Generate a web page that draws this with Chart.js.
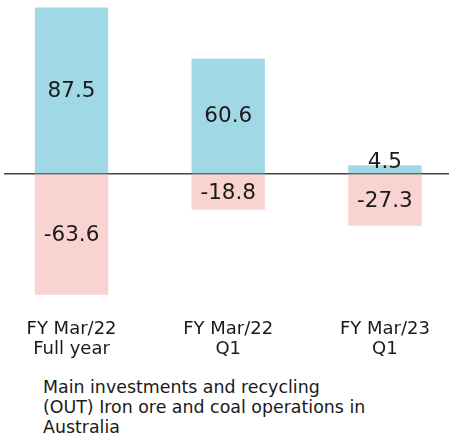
<!DOCTYPE html>
<html>
<head>
<meta charset="utf-8">
<script src="https://cdn.jsdelivr.net/npm/chart.js@4/dist/chart.umd.min.js"></script>
<style>
  html, body { margin: 0; padding: 0; background: #fff; }
  #wrap { position: relative; width: 449px; height: 444px; }
  #box { position: absolute; left: 0; top: 0; width: 449px; height: 359px; }
  #caption {
    position: absolute; left: 43px; top: 377px; width: 400px;
    font-family: "DejaVu Sans", Verdana, sans-serif; font-size: 17.4px;
    line-height: 20px; color: #1a1a1a;
  }
</style>
</head>
<body>
<div id="wrap">
  <div id="box"><canvas id="chart"></canvas></div>
  <div id="caption">Main investments and recycling<br>(OUT) Iron ore and coal operations in<br>Australia</div>
</div>
<script>
const categories = [['FY Mar/22', 'Full year'], ['FY Mar/22', 'Q1'], ['FY Mar/23', 'Q1']];
const investments = [87.5, 60.6, 4.5];
const recycling = [-63.6, -18.8, -27.3];

const BLUE = 'rgb(161, 216, 230)';
const PINK = 'rgb(248, 211, 207)';

const valueLabels = {
  id: 'valueLabels',
  afterDatasetsDraw(chart) {
    const ctx = chart.ctx;
    ctx.save();
    ctx.font = '21.5px "DejaVu Sans", Verdana, sans-serif';
    ctx.fillStyle = '#1a1a1a';
    ctx.textAlign = 'center';
    ctx.textBaseline = 'middle';
    chart.data.datasets.forEach((ds, i) => {
      chart.getDatasetMeta(i).data.forEach((bar, j) => {
        const h = Math.abs(bar.base - bar.y);
        let y = (bar.y + bar.base) / 2;
        if (h < 24) y = ds.data[j].y > 0 ? bar.base - 12 : bar.base + 12;
        ctx.fillText(String(ds.data[j].y), bar.x, y + 1);
      });
    });
    ctx.restore();
  }
};

new Chart(document.getElementById('chart'), {
  type: 'bar',
  data: {
    datasets: [
      { data: investments.map((v, i) => ({ x: i, y: v })), backgroundColor: BLUE },
      { data: recycling.map((v, i) => ({ x: i, y: v })), backgroundColor: PINK }
    ]
  },
  options: {
    responsive: true,
    maintainAspectRatio: false,
    animation: false,
    layout: { padding: { left: 4, right: 0, top: 0, bottom: 0 } },
    barPercentage: 0.468,
    categoryPercentage: 1,
    plugins: { legend: { display: false }, tooltip: { enabled: false } },
    scales: {
      x: {
        type: 'linear',
        stacked: true,
        offset: false,
        min: -0.431,
        max: 2.409,
        afterBuildTicks(axis) { axis.ticks = categories.map((c, i) => ({ value: i })); },
        ticks: {
          padding: 0,
          autoSkip: false,
          maxRotation: 0,
          color: '#1a1a1a',
          font: { family: '"DejaVu Sans", Verdana, sans-serif', size: 18, lineHeight: 1.11 },
          callback: (v) => categories[v]
        },
        grid: { display: false },
        border: { display: false }
      },
      y: {
        stacked: true,
        min: -72.1,
        max: 91.45,
        z: 1,
        afterBuildTicks(axis) { axis.ticks = [{ value: 0 }]; },
        ticks: { display: false },
        grid: { drawTicks: false, color: '#444', lineWidth: 1.5 },
        border: { display: false }
      }
    }
  },
  plugins: [valueLabels]
});
</script>
</body>
</html>
